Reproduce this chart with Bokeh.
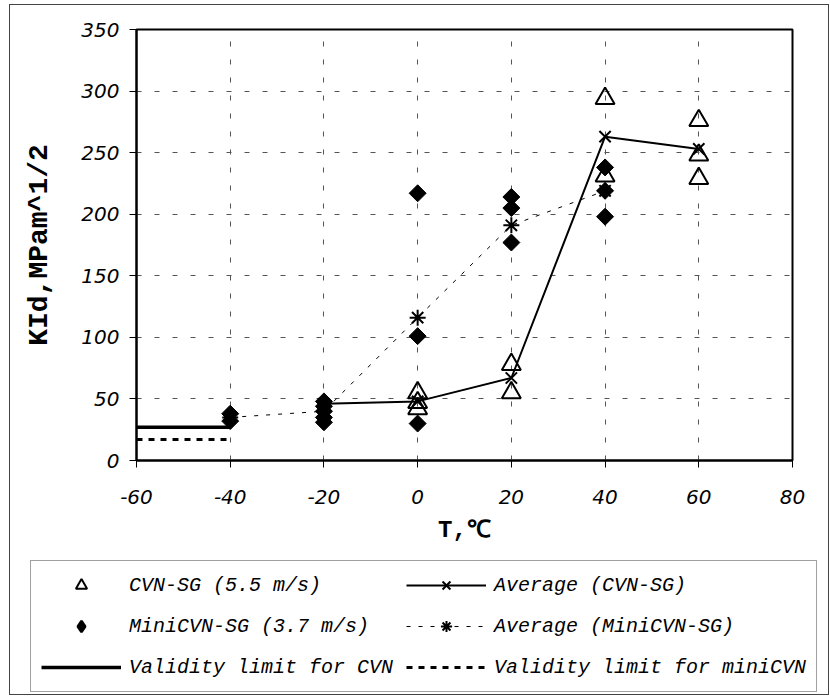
import numpy as np
from bokeh.plotting import figure
from bokeh.layouts import column, row
from bokeh.models import Range1d, FixedTicker, Legend, LegendItem
from bokeh.embed import file_html
from bokeh.resources import INLINE

# ---- data ----
cvn_T = [0, 0, 0, 20, 20, 40, 40, 60, 60, 60]
cvn_K = [55, 47, 42, 78, 55, 294, 231, 276, 248, 229]
mini_T = [-40, -40, -20, -20, -20, -20, -20, 0, 0, 0, 20, 20, 20, 40, 40, 40]
mini_K = [38, 32, 48, 44, 40, 35, 31, 217, 101, 30, 214, 205, 177, 238, 219, 198]
cvn_avg_T = [-20, 0, 20, 40, 60]
cvn_avg_K = [46, 48, 67, 263, 253]
mini_avg_T = [-40, -20, 0, 20, 40]
mini_avg_K = [35, 40, 116, 191, 219]
valid_T = [-60, -40]
valid_cvn_K = [27, 27]
valid_mini_K = [17, 17]
x_ticks = [-60, -40, -20, 0, 20, 40, 60, 80]
y_ticks = [0, 50, 100, 150, 200, 250, 300, 350]

labels = ["CVN-SG (5.5 m/s)", "MiniCVN-SG (3.7 m/s)", "Validity limit for CVN",
          "Average (CVN-SG)", "Average (MiniCVN-SG)", "Validity limit for miniCVN"]


def add_series(fig, visible=True, legend_shapes=False):
    r_vc = fig.line(valid_T, valid_cvn_K, line_color="black", line_width=3.5)
    r_vm = fig.line(valid_T, valid_mini_K, line_color="black", line_width=3, line_dash="6 6")
    r_ca_l = fig.line(cvn_avg_T, cvn_avg_K, line_color="black", line_width=2)
    r_ma_l = fig.line(mini_avg_T, mini_avg_K, line_color="black", line_width=1, line_dash="4 8")
    if legend_shapes:
        r_mini = fig.scatter(mini_T, mini_K, marker="diamond", size=20,
                             fill_color="black", line_color="black", line_width=2.5)
    else:
        r_mini = fig.scatter(mini_T, mini_K, marker="square", angle=np.pi / 4, size=12,
                             fill_color="black", line_color="black", line_width=1)
    r_cvn = fig.scatter(cvn_T, cvn_K, marker="triangle", size=19,
                        fill_color="white", fill_alpha=0.0, line_color="black", line_width=2)
    r_ca_p = fig.scatter(cvn_avg_T, cvn_avg_K, marker="x", size=16,
                         line_color="black", line_width=2)
    r_ma_p = fig.scatter(mini_avg_T, mini_avg_K, marker="asterisk", size=16,
                         line_color="black", line_width=2)
    for r in (r_vc, r_vm, r_ca_l, r_ma_l, r_mini, r_cvn, r_ca_p, r_ma_p):
        r.visible = visible
    return [[r_cvn], [r_mini], [r_vc], [r_ca_l, r_ca_p], [r_ma_l, r_ma_p], [r_vm]]


# ---------------- main chart ----------------
p = figure(frame_width=656, frame_height=431,
           output_backend="svg", toolbar_location=None,
           x_range=Range1d(-60, 80), y_range=Range1d(0, 350),
           min_border_left=126, min_border_right=36, min_border_top=24,
           min_border_bottom=10)
p.background_fill_color = "white"
p.border_fill_color = "white"
p.outline_line_color = "black"
p.outline_line_width = 2

for ax in (p.xaxis[0], p.yaxis[0]):
    ax.axis_line_color = "black"
    ax.axis_line_width = 2
    ax.major_tick_line_color = "black"
    ax.major_tick_line_width = 1
    ax.major_tick_out = 7
    ax.major_tick_in = 0
    ax.minor_tick_line_color = None
    ax.major_label_text_font = "DejaVu Sans"
    ax.major_label_text_font_style = "italic"
    ax.major_label_text_font_size = "20px"
    ax.major_label_text_color = "black"
    ax.axis_label_text_font = "Liberation Mono"
    ax.axis_label_text_font_style = "bold"
    ax.axis_label_text_color = "black"

p.xaxis.ticker = FixedTicker(ticks=x_ticks)
p.yaxis.ticker = FixedTicker(ticks=y_ticks)
p.xaxis.major_label_overrides = {t: str(t) for t in x_ticks}
p.yaxis.major_label_overrides = {t: str(t) for t in y_ticks}
p.xaxis.major_label_standoff = 22
p.yaxis.major_label_standoff = 10
p.xaxis.axis_label = "T,℃"
p.xaxis.axis_label_text_font_size = "24px"
p.xaxis.axis_label_standoff = 10
p.yaxis.axis_label = "KId,MPam^1/2"
p.yaxis.axis_label_text_font_size = "28px"
p.yaxis.axis_label_standoff = 23

for g in (p.xgrid[0], p.ygrid[0]):
    g.grid_line_color = "#555555"
    g.grid_line_width = 1
    g.grid_line_dash = "5 13"
p.xgrid.ticker = FixedTicker(ticks=x_ticks)
p.ygrid.ticker = FixedTicker(ticks=y_ticks)

add_series(p, visible=True)

# ---------------- legend panel ----------------
q = figure(width=818, height=148, output_backend="svg", toolbar_location=None,
           x_range=Range1d(-60, 80), y_range=Range1d(0, 350),
           x_axis_location=None, y_axis_location=None,
           min_border=0, min_border_left=0, min_border_right=0,
           min_border_top=0, min_border_bottom=0)
q.grid.visible = False
q.outline_line_color = None
q.background_fill_color = "white"
q.border_fill_color = "white"
groups = add_series(q, visible=False, legend_shapes=True)

legend = Legend(items=[LegendItem(label=lab, renderers=rs) for lab, rs in zip(labels, groups)],
                orientation="vertical", nrows=3)
legend.label_text_font = "Liberation Mono"
legend.label_text_font_style = "italic"
legend.label_text_font_size = "20px"
legend.label_text_color = "black"
legend.glyph_width = 80
legend.glyph_height = 28
legend.label_height = 28
legend.label_standoff = 8
legend.spacing = 13
legend.padding = 10
legend.margin = 0
legend.border_line_color = "#444444"
legend.border_line_width = 1.5
legend.background_fill_color = "white"
legend.inactive_fill_alpha = 0.0
legend.location = (20, 2)
q.add_layout(legend, "center")

layout = column(p, row(q), spacing=0,
                styles={"border": "1px solid #444444", "margin-left": "9px",
                        "margin-top": "4px"})
open("out.html", "w").write(file_html(layout, INLINE))
